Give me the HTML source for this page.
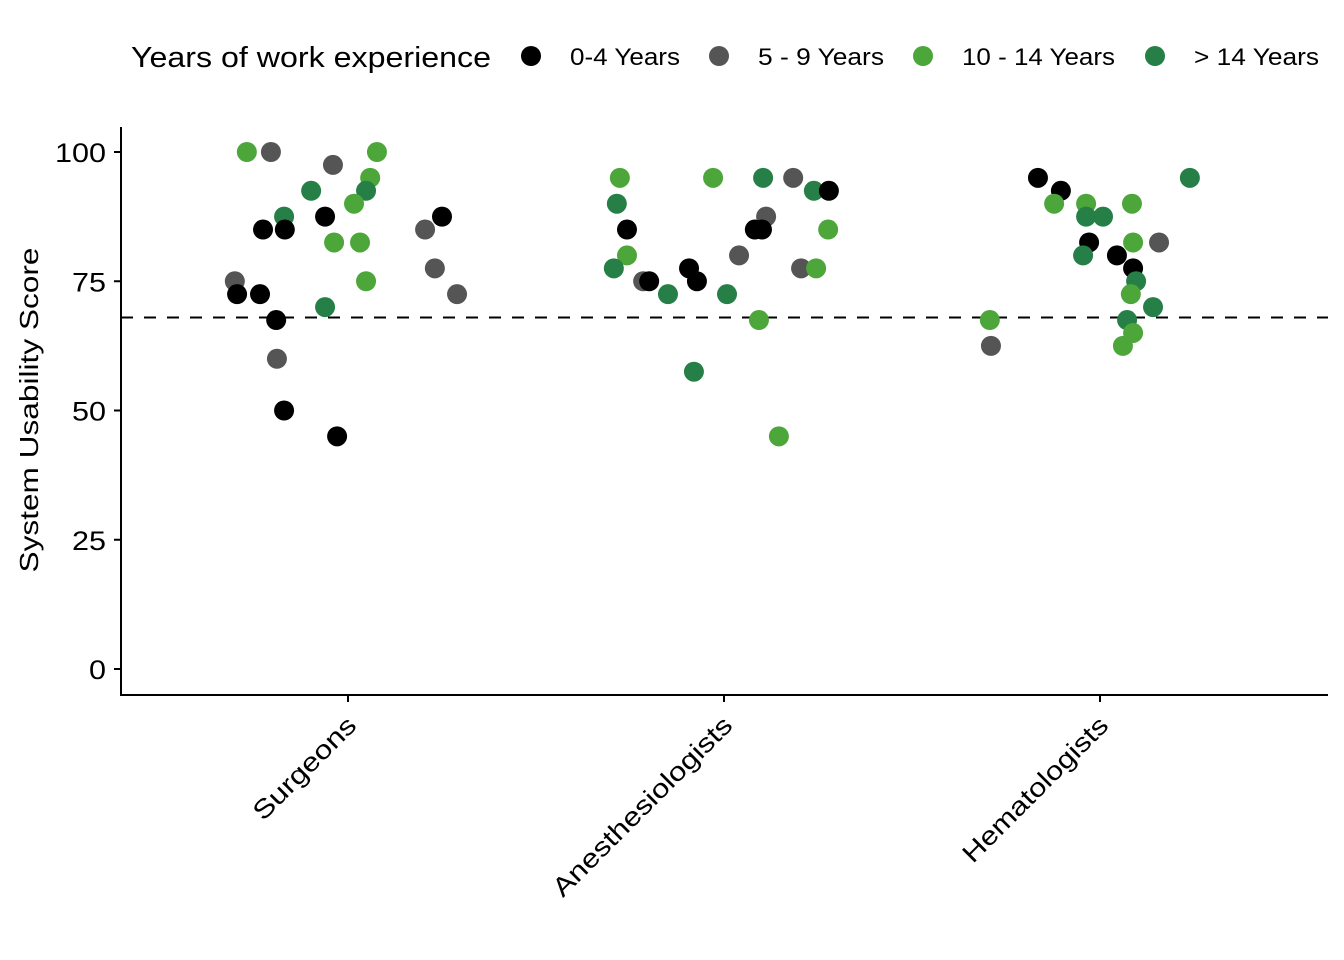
<!DOCTYPE html>
<html><head><meta charset="utf-8"><style>
html,body{margin:0;padding:0;background:#fff;}
svg{display:block;font-family:"Liberation Sans",Arial,sans-serif;}
</style></head><body>
<svg id="chart" width="1344" height="960" viewBox="0 0 1344 960" xmlns="http://www.w3.org/2000/svg">
<g id="legend">
<text x="131" y="67" font-size="29" textLength="360" lengthAdjust="spacingAndGlyphs" fill="#000">Years of work experience</text>
</g>
<g id="axes"></g>
<g id="marks"></g>
</svg>
<script>
const categories = ["Surgeons","Anesthesiologists","Hematologists"];
const groups = ["0-4 Years","5 - 9 Years","10 - 14 Years","> 14 Years"];
const groupColors = ["#000000","#555555","#4DA63A","#267F47"];
const yTicks = [0,25,50,75,100];
const refLine = 68;
const cat = [0,0,0,0,0,0,0,0,0,0,0,0,0,0,0,0,0,0,0,0,0,0,0,0,0,0,0,
 1,1,1,1,1,1,1,1,1,1,1,1,1,1,1,1,1,1,1,1,1,1,1,1,1,1,
 2,2,2,2,2,2,2,2,2,2,2,2,2,2,2,2,2,2,2,2,2,2];
const jitter = [-.269,-.205,-.040,.077,.059,.048,-.098,.016,-.170,-.061,.250,-.226,-.168,.205,-.037,.032,.231,-.301,.048,-.295,-.234,.290,-.061,-.191,-.189,-.170,-.029,
 -.277,-.029,.104,.184,.239,.279,-.285,.112,-.258,.082,.101,.277,-.258,.040,-.293,-.093,.205,.245,-.215,-.199,-.072,-.149,.008,.093,-.080,.146,
 -.165,.239,-.104,-.122,-.037,.085,-.037,.008,-.029,.088,.157,-.045,.045,.088,.096,.082,.141,-.293,.072,.088,-.290,.061];
const values = [100,100,97.5,100,95,92.5,92.5,90,87.5,87.5,87.5,85,85,85,82.5,82.5,77.5,75,75,72.5,72.5,72.5,70,67.5,60,50,45,
 95,95,95,95,92.5,92.5,90,87.5,85,85,85,85,80,80,77.5,77.5,77.5,77.5,75,75,75,72.5,72.5,67.5,57.5,45,
 95,95,92.5,90,90,90,87.5,87.5,82.5,82.5,82.5,80,80,77.5,75,72.5,70,67.5,67.5,65,62.5,62.5];
const group = [2,1,1,2,2,3,3,2,3,0,0,0,0,1,2,2,1,1,2,0,0,1,3,0,1,0,0,
 2,2,3,1,3,0,3,1,0,0,0,2,2,1,3,0,1,2,1,0,0,3,3,2,3,2,
 0,3,0,2,2,2,3,3,0,2,1,3,0,0,3,2,3,2,3,2,1,2];

const NS="http://www.w3.org/2000/svg";
const X0=121,X1=1328,Y0=695,Ytop=127;
const catStart=348, catStep=376;
function xScale(c){return catStart+c*catStep;}
function yScale(v){return 669-v*5.17;}
function mk(tag,attrs,parent,text){const e=document.createElementNS(NS,tag);for(const k in attrs)e.setAttribute(k,attrs[k]);if(text!==undefined)e.textContent=text;parent.appendChild(e);return e;}
const axes=document.getElementById('axes'), marks=document.getElementById('marks'), legend=document.getElementById('legend');

let e=mk('line',{x1:X0,y1:Ytop,x2:X0,y2:Y0+1,stroke:'#000','stroke-width':2},axes);


e=mk('line',{x1:X0-1,y1:Y0,x2:X1,y2:Y0,stroke:'#000','stroke-width':2},axes);


yTicks.forEach(t=>{
  const y=yScale(t);
  let l=mk('line',{x1:X0-7,y1:y,x2:X0,y2:y,stroke:'#000','stroke-width':2},axes);
  
  
  const s=String(t);
  let tx=mk('text',{x:106,y:y+10,'font-size':27,'text-anchor':'end',fill:'#000',textLength:17*s.length,lengthAdjust:'spacingAndGlyphs'},axes,s);
  
  
});
const xLabelLen=[134,242,194];
categories.forEach((c,i)=>{
  const x=xScale(i);
  let l=mk('line',{x1:x,y1:Y0,x2:x,y2:Y0+7,stroke:'#000','stroke-width':2},axes);
  
  
  let tx=mk('text',{x:x+10,y:Y0+32,'font-size':26,'text-anchor':'end',fill:'#000',textLength:xLabelLen[i],lengthAdjust:'spacingAndGlyphs',transform:`rotate(-45 ${x+10} ${Y0+32})`},axes,c);
  
  
});
let yt=mk('text',{x:0,y:0,'font-size':26,'text-anchor':'middle',fill:'#000',textLength:325,lengthAdjust:'spacingAndGlyphs',transform:'translate(38 410) rotate(-90)'},axes,'System Usability Score');


let rl=mk('line',{x1:X0,y1:yScale(refLine),x2:X1,y2:yScale(refLine),stroke:'#000','stroke-width':2,'stroke-dasharray':'12 11'},axes);



values.forEach((v,i)=>{
  const c=mk('circle',{cx:xScale(cat[i]+jitter[i]),cy:yScale(v),r:10,fill:groupColors[group[i]]},marks);
  
  
});

const legX=[531,719,923,1155];
const legLen=[110,126,153,125];
groups.forEach((g,i)=>{
  const c=mk('circle',{cx:legX[i],cy:56,r:10,fill:groupColors[i]},legend);
  
  
  const t=mk('text',{x:legX[i]+39,y:65,'font-size':24,fill:'#000',textLength:legLen[i],lengthAdjust:'spacingAndGlyphs'},legend,g);
  
  
});
</script>
</body></html>
